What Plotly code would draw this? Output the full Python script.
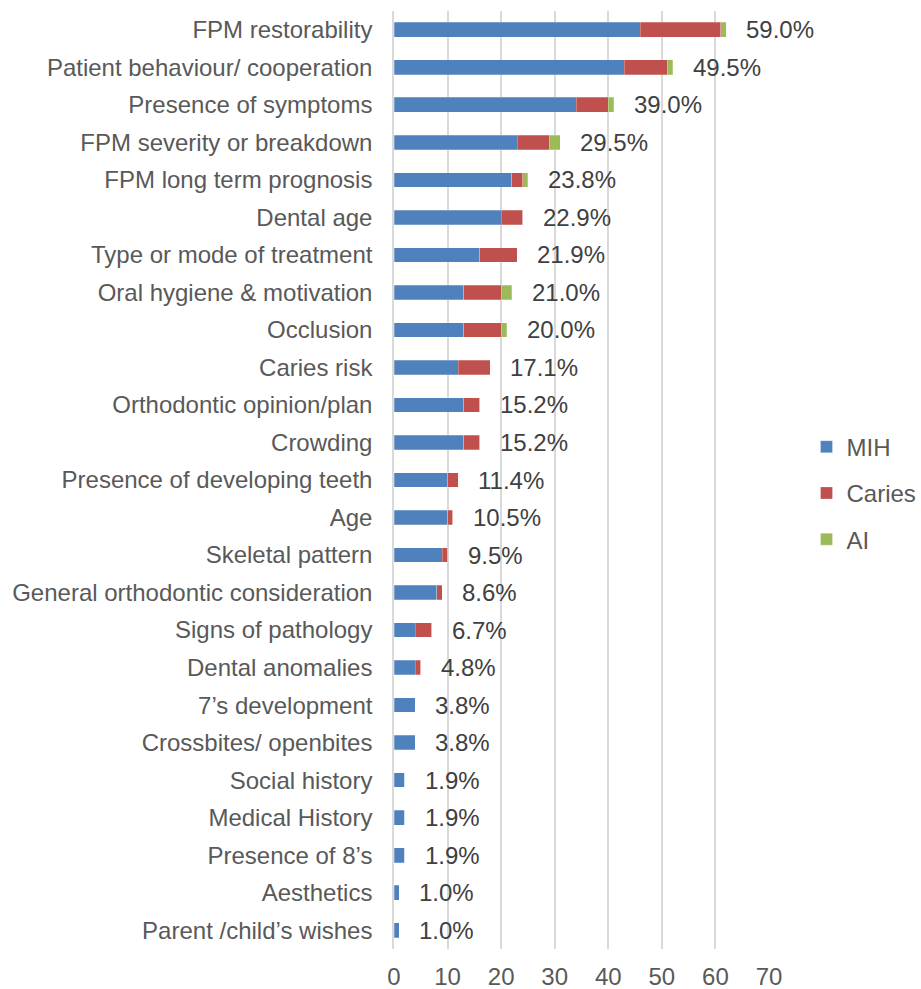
import plotly.graph_objects as go

# Factors considered, listed top to bottom
factors = [
    "FPM restorability",
    "Patient behaviour/ cooperation",
    "Presence of symptoms",
    "FPM severity or breakdown",
    "FPM long term prognosis",
    "Dental age",
    "Type or mode of treatment",
    "Oral hygiene & motivation",
    "Occlusion",
    "Caries risk",
    "Orthodontic opinion/plan",
    "Crowding",
    "Presence of developing teeth",
    "Age",
    "Skeletal pattern",
    "General orthodontic consideration",
    "Signs of pathology",
    "Dental anomalies",
    "7\u2019s development",
    "Crossbites/ openbites",
    "Social history",
    "Medical History",
    "Presence of 8\u2019s",
    "Aesthetics",
    "Parent /child\u2019s wishes",
]

# Number of responses by condition
mih = [46, 43, 34, 23, 22, 20, 16, 13, 13, 12, 13, 13, 10, 10, 9, 8, 4, 4, 4, 4, 2, 2, 2, 1, 1]
caries = [15, 8, 6, 6, 2, 4, 7, 7, 7, 6, 3, 3, 2, 1, 1, 1, 3, 1, 0, 0, 0, 0, 0, 0, 0]
ai = [1, 1, 1, 2, 1, 0, 0, 2, 1, 0, 0, 0, 0, 0, 0, 0, 0, 0, 0, 0, 0, 0, 0, 0, 0]

# Percentage of all respondents
percent_labels = ["59.0%", "49.5%", "39.0%", "29.5%", "23.8%", "22.9%", "21.9%", "21.0%",
                  "20.0%", "17.1%", "15.2%", "15.2%", "11.4%", "10.5%", "9.5%", "8.6%",
                  "6.7%", "4.8%", "3.8%", "3.8%", "1.9%", "1.9%", "1.9%", "1.0%", "1.0%"]

series = [("MIH", mih, "#4F81BD"), ("Caries", caries, "#C0504D"), ("AI", ai, "#9BBB59")]

FONT = "Liberation Sans, Arial, sans-serif"
TEXT_COLOR = "#595959"

fig = go.Figure()
for name, vals, color in series:
    fig.add_trace(go.Bar(
        y=factors, x=vals, name=name, orientation="h",
        marker=dict(color=color, line=dict(color="rgba(255,255,255,0.5)", width=0.5)),
        legendgroup=name, hoverinfo="x+name",
    ))

totals = [m + c + a for m, c, a in zip(mih, caries, ai)]
for f, t, lab in zip(factors, totals, percent_labels):
    fig.add_annotation(x=t, y=f, text=lab, showarrow=False, xanchor="left",
                       xshift=18, font=dict(family=FONT, size=24, color="#404040"))

fig.update_layout(
    width=921, height=989,
    margin=dict(l=394, r=152, t=11, b=40, autoexpand=False),
    barmode="stack", bargap=0.61,
    plot_bgcolor="white", paper_bgcolor="white",
    font=dict(family=FONT, size=24, color=TEXT_COLOR),
    legend=dict(x=1.1, y=0.486, xanchor="left", yanchor="middle",
                font=dict(family=FONT, size=24, color=TEXT_COLOR),
                tracegroupgap=12, itemwidth=30),
    showlegend=True,
)
fig.update_xaxes(range=[0, 70], dtick=10, showgrid=True, gridcolor="#d9d9d9", gridwidth=1.5,
                 zeroline=False, showline=False, ticklabelstandoff=11, automargin=False,
                 tickfont=dict(family=FONT, size=24, color=TEXT_COLOR))
fig.update_yaxes(autorange="reversed", showline=True, linecolor="#d9d9d9", linewidth=1.5,
                 ticklabelstandoff=15, automargin=False,
                 tickfont=dict(family=FONT, size=24, color=TEXT_COLOR))

fig.write_html("out.html")
